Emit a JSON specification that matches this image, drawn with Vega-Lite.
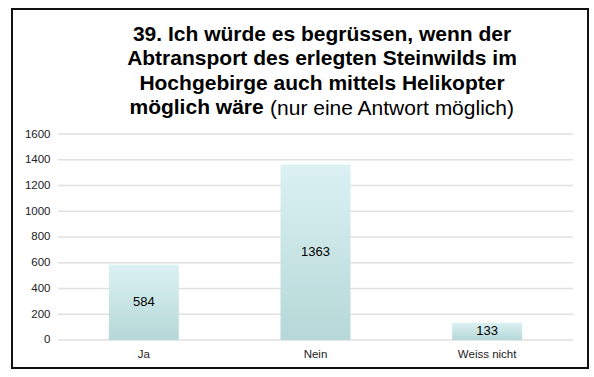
{
  "$schema": "https://vega.github.io/schema/vega-lite/v6.json",
  "width": 576,
  "height": 359,
  "autosize": {"type": "none"},
  "padding": {"left": 12, "top": 9, "right": 6, "bottom": 9},
  "background": "#ffffff",
  "config": {
    "font": "Liberation Sans",
    "view": {"stroke": "#111111", "strokeWidth": 2}
  },
  "title": {
    "text": [
      "39. Ich würde es begrüssen, wenn der",
      "Abtransport des erlegten Steinwilds im",
      "Hochgebirge auch mittels Helikopter",
      "möglich wäre\u00a0\u00a0\u00a0\u00a0\u00a0\u00a0\u00a0\u00a0\u00a0\u00a0\u00a0\u00a0\u00a0\u00a0\u00a0\u00a0\u00a0\u00a0\u00a0\u00a0\u00a0\u00a0\u00a0\u00a0\u00a0\u00a0\u00a0\u00a0\u00a0\u00a0\u00a0\u00a0\u00a0\u00a0\u00a0\u00a0\u00a0\u00a0\u00a0\u00a0\u00a0\u00a0\u00a0\u200b"
    ],
    "subtitle": "\u200b\u00a0\u00a0\u00a0\u00a0\u00a0\u00a0\u00a0\u00a0\u00a0\u00a0\u00a0\u00a0\u00a0\u00a0\u00a0\u00a0\u00a0\u00a0\u00a0\u00a0\u00a0\u00a0\u00a0\u00a0(nur eine Antwort möglich)",
    "font": "Liberation Sans",
    "fontSize": 21,
    "fontWeight": "bold",
    "lineHeight": 24.5,
    "color": "#000000",
    "subtitleFont": "Liberation Sans",
    "subtitleFontSize": 21,
    "subtitleFontWeight": "normal",
    "subtitleColor": "#000000",
    "subtitleLineHeight": 24.5,
    "subtitlePadding": -20,
    "anchor": "middle",
    "frame": "group",
    "offset": -110,
    "dx": 22
  },
  "layer": [
    {
      "data": {"values": [{"g": 0}, {"g": 200}, {"g": 400}, {"g": 600}, {"g": 800}, {"g": 1000}, {"g": 1200}, {"g": 1400}, {"g": 1600}]},
      "mark": {"type": "rule", "color": "#e0e0e0", "strokeWidth": 1.5},
      "encoding": {
        "y": {"field": "g", "type": "quantitative"},
        "x": {"datum": "Ja", "type": "nominal", "bandPosition": 0},
        "x2": {"datum": "Weiss nicht", "bandPosition": 1}
      }
    },
    {
      "data": {"values": [
        {"k": "Ja", "n": 584},
        {"k": "Nein", "n": 1363},
        {"k": "Weiss nicht", "n": 133}
      ]},
      "layer": [
        {
          "mark": {
            "type": "bar",
            "width": 70,
            "color": {
              "gradient": "linear",
              "x1": 0, "y1": 0, "x2": 0, "y2": 1,
              "stops": [
                {"offset": 0, "color": "#dbf1f3"},
                {"offset": 1, "color": "#b6d8d8"}
              ]
            }
          },
          "encoding": {
            "x": {"field": "k", "type": "nominal"},
            "y": {"field": "n", "type": "quantitative"},
            "y2": {"datum": 0}
          }
        },
        {
          "transform": [{"calculate": "datum.n / 2", "as": "mid"}],
          "mark": {"type": "text", "fontSize": 13, "color": "#000000", "font": "Liberation Sans", "baseline": "middle"},
          "encoding": {
            "x": {"field": "k", "type": "nominal"},
            "y": {"field": "mid", "type": "quantitative"},
            "text": {"field": "n", "type": "quantitative"}
          }
        }
      ]
    }
  ],
  "encoding": {
    "x": {
      "type": "nominal",
      "scale": {"domain": ["Ja", "Nein", "Weiss nicht"], "paddingInner": 0, "paddingOuter": 0.1777, "align": 0.754},
      "axis": {"title": null, "labelAngle": 0, "domain": false, "ticks": false, "offset": -28, "labelPadding": 8, "labelFontSize": 11.5, "labelColor": "#222222", "labelFont": "Liberation Sans"}
    },
    "y": {
      "type": "quantitative",
      "scale": {"domain": [-217.5, 2570.9], "nice": false, "zero": false},
      "axis": {"title": null, "grid": false, "domain": false, "ticks": false, "format": "d", "values": [0, 200, 400, 600, 800, 1000, 1200, 1400, 1600], "offset": -46, "labelPadding": 8, "labelFontSize": 11.5, "labelColor": "#222222", "labelFont": "Liberation Sans"}
    }
  }
}
